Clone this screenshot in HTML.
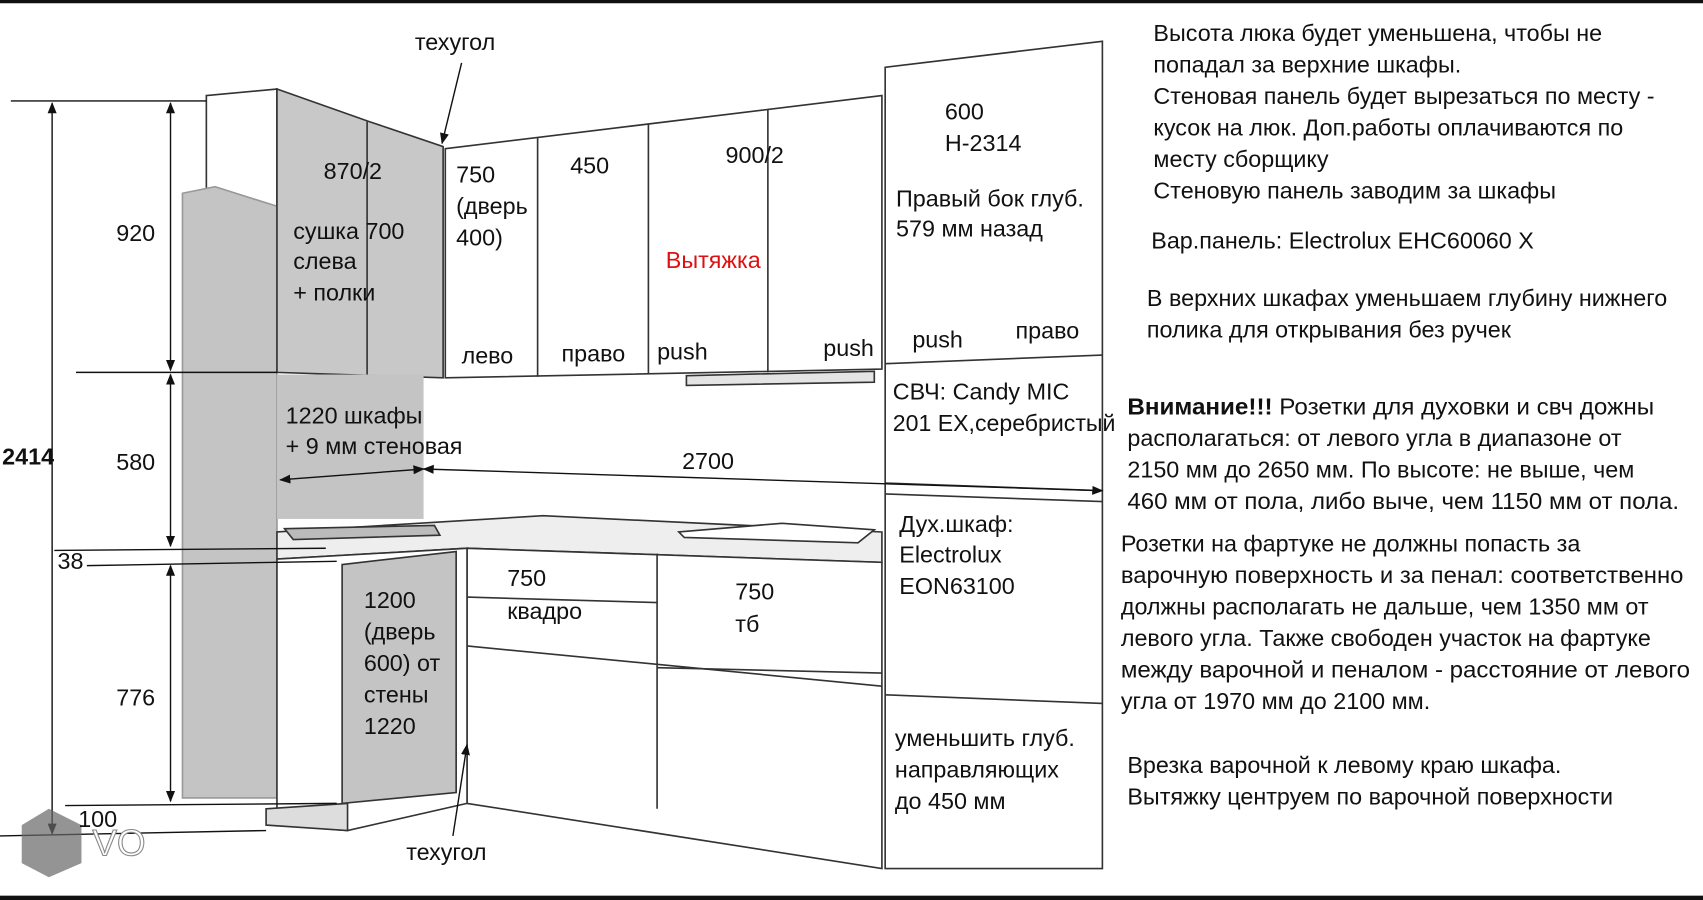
<!DOCTYPE html>
<html><head><meta charset="utf-8"><style>
html,body{margin:0;padding:0;background:#fff;}
svg{display:block}
text{font-family:"Liberation Sans",sans-serif;font-size:21.5px;fill:#111}
</style></head><body>
<svg width="1703" height="900" viewBox="0 0 1568 829" preserveAspectRatio="none" xmlns="http://www.w3.org/2000/svg">
<defs><marker id="a" viewBox="0 0 10 10" refX="9" refY="5" markerWidth="8" markerHeight="8" orient="auto-start-reverse"><path d="M0,1 L10,5 L0,9z" fill="#111"/></marker></defs>
<rect x="0" y="0" width="1568" height="3" fill="#111"/>
<rect x="0" y="825" width="1568" height="4" fill="#111"/>
<g stroke="#333" stroke-width="1.5" fill="#fff">
<polygon points="190,88 255,82 255,190 190,175"/>
<polygon points="168,178 198,172 255,190 255,735 168,735" fill="#c4c4c4" stroke="#999"/>
<polygon points="255,82 340,112 408,135 408,348 255,343" fill="#c8c8c8"/>
<line x1="338" y1="112" x2="338" y2="345"/>
<rect x="255" y="345" width="135" height="133" fill="#c4c4c4" stroke="none"/>
<polygon points="410,137 812,88 812,340 410,348"/>
<line x1="495" y1="127" x2="495" y2="347"/>
<line x1="597" y1="114" x2="597" y2="345"/>
<line x1="707" y1="101" x2="707" y2="343"/>
<polygon points="632,346 805,342 805,352 632,355" fill="#e4e4e4"/>
<polygon points="815,62 1015,38 1015,800 815,800"/>
<line x1="815" y1="335" x2="1015" y2="327"/>
<line x1="815" y1="445" x2="1015" y2="452"/>
<line x1="815" y1="455" x2="1015" y2="462"/>
<line x1="815" y1="640" x2="1015" y2="648"/>
<polygon points="255,490 500,475 812,490 812,518 430,505 255,515" fill="#eee"/>
<polygon points="625,490 720,482 805,488 790,500 630,495" fill="#fff"/>
<polygon points="262,487 400,484 405,493 270,497" fill="#bbb"/>
<polygon points="430,505 812,518 812,800 430,740"/>
<line x1="605" y1="510" x2="605" y2="745"/>
<line x1="430" y1="550" x2="605" y2="555"/>
<line x1="430" y1="595" x2="812" y2="632"/>
<line x1="605" y1="615" x2="812" y2="620"/>
<polygon points="255,515 430,505 430,740 320,765 255,760"/>
<polygon points="315,520 420,508 420,730 315,740" fill="#c4c4c4"/>
<polygon points="245,745 320,740 320,765 245,760" fill="#ddd"/>
</g>
<g stroke="#111" stroke-width="1.3" fill="none">
<line x1="10" y1="93" x2="190" y2="93"/>
<line x1="48" y1="95" x2="48" y2="768" marker-start="url(#a)" marker-end="url(#a)"/>
<line x1="157" y1="95" x2="157" y2="341" marker-start="url(#a)" marker-end="url(#a)"/>
<line x1="157" y1="345" x2="157" y2="503" marker-start="url(#a)" marker-end="url(#a)"/>
<line x1="157" y1="521" x2="157" y2="738" marker-start="url(#a)" marker-end="url(#a)"/>
<line x1="70" y1="343" x2="255" y2="343"/>
<line x1="50" y1="507" x2="300" y2="505"/>
<line x1="80" y1="521" x2="310" y2="517"/>
<line x1="60" y1="742" x2="310" y2="740"/>
<line x1="0" y1="770" x2="245" y2="765"/>
<line x1="258" y1="442" x2="390" y2="432" marker-start="url(#a)" marker-end="url(#a)"/>
<line x1="390" y1="432" x2="1015" y2="452" marker-start="url(#a)" marker-end="url(#a)"/>
<line x1="425" y1="58" x2="407" y2="132" marker-end="url(#a)"/>
<line x1="417" y1="770" x2="430" y2="686" marker-end="url(#a)"/>
</g>
<polygon points="20,760 45,745 75,760 75,795 45,808 20,795" fill="#666" opacity="0.7"/>
<text x="85" y="788" style="font-size:34px;fill:#fff;stroke:#888;stroke-width:1">VO</text>
<text x="382" y="46">техугол</text>
<text x="374" y="792">техугол</text>
<text x="2" y="428" style="font-weight:bold">2414</text>
<text x="107" y="222">920</text>
<text x="107" y="433">580</text>
<text x="53" y="524">38</text>
<text x="107" y="650">776</text>
<text x="72" y="762">100</text>
<text x="298" y="165">870/2</text>
<text x="270" y="220">сушка  700</text>
<text x="270" y="248">слева</text>
<text x="270" y="277">+ полки</text>
<text x="420" y="168">750</text>
<text x="420" y="197">(дверь</text>
<text x="420" y="226">400)</text>
<text x="525" y="160">450</text>
<text x="668" y="150">900/2</text>
<text x="613" y="247" style="fill:#d11">Вытяжка</text>
<text x="425" y="335">лево</text>
<text x="517" y="333">право</text>
<text x="605" y="331">push</text>
<text x="758" y="328">push</text>
<text x="870" y="110">600</text>
<text x="870" y="139">H-2314</text>
<text x="825" y="190">Правый бок глуб.</text>
<text x="825" y="218">579 мм назад</text>
<text x="840" y="320">push</text>
<text x="935" y="312">право</text>
<text x="822" y="368">СВЧ: Candy MIC</text>
<text x="822" y="397" textLength="205" lengthAdjust="spacingAndGlyphs">201 EX,серебристый</text>
<text x="828" y="490">Дух.шкаф:</text>
<text x="828" y="518">Electrolux</text>
<text x="828" y="547">EON63100</text>
<text x="824" y="687">уменьшить глуб.</text>
<text x="824" y="716">направляющих</text>
<text x="824" y="745">до 450 мм</text>
<text x="263" y="390">1220 шкафы</text>
<text x="263" y="418">+ 9 мм стеновая</text>
<text x="628" y="432">2700</text>
<text x="467" y="540">750</text>
<text x="467" y="570">квадро</text>
<text x="677" y="552">750</text>
<text x="677" y="582">тб</text>
<text x="335" y="560">1200</text>
<text x="335" y="589">(дверь</text>
<text x="335" y="618">600) от</text>
<text x="335" y="647">стены</text>
<text x="335" y="676">1220</text>
<g>
<text x="1062" y="38">Высота люка будет уменьшена, чтобы не</text>
<text x="1062" y="67">попадал за верхние шкафы.</text>
<text x="1062" y="96">Стеновая панель будет вырезаться по месту -</text>
<text x="1062" y="125">кусок на люк. Доп.работы оплачиваются по</text>
<text x="1062" y="154">месту сборщику</text>
<text x="1062" y="183">Стеновую панель заводим за шкафы</text>
<text x="1060" y="229">Вар.панель: Electrolux EHC60060 X</text>
<text x="1056" y="282">В верхних шкафах уменьшаем глубину нижнего</text>
<text x="1056" y="311">полика для открывания без ручек</text>
<text x="1038" y="382" textLength="485" lengthAdjust="spacingAndGlyphs"><tspan style="font-weight:bold">Внимание!!!</tspan> Розетки для духовки и свч дожны</text>
<text x="1038" y="411">располагаться: от левого угла в диапазоне от</text>
<text x="1038" y="440">2150 мм до 2650 мм. По высоте: не выше, чем</text>
<text x="1038" y="469" textLength="508" lengthAdjust="spacingAndGlyphs">460 мм от пола, либо выче, чем 1150 мм от пола.</text>
<text x="1032" y="508">Розетки на фартуке не должны попасть за</text>
<text x="1032" y="537" textLength="518" lengthAdjust="spacingAndGlyphs">варочную поверхность и за пенал: соответственно</text>
<text x="1032" y="566">должны располагать не дальше, чем 1350 мм от</text>
<text x="1032" y="595">левого угла. Также свободен участок на фартуке</text>
<text x="1032" y="624" textLength="524" lengthAdjust="spacingAndGlyphs">между варочной и пеналом - расстояние от левого</text>
<text x="1032" y="653">угла от 1970 мм до 2100 мм.</text>
<text x="1038" y="712">Врезка варочной к левому краю шкафа.</text>
<text x="1038" y="741">Вытяжку центруем по варочной поверхности</text>
</g>
</svg>
</body></html>
